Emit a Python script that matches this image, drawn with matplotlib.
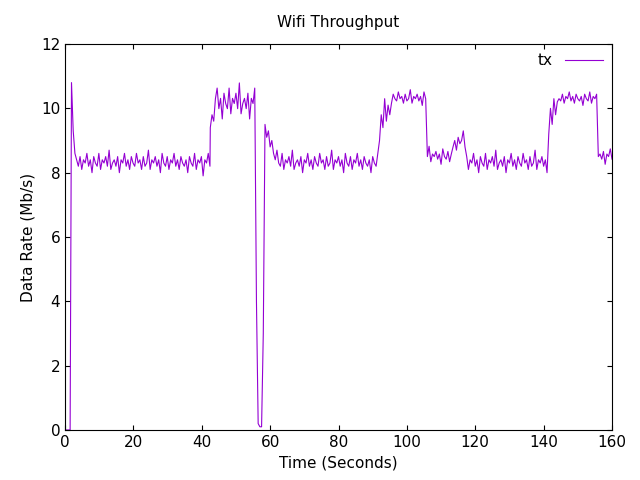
import numpy as np
import matplotlib
matplotlib.use("Agg")
import matplotlib.pyplot as plt

# hand-read jitter around each plateau (Mb/s)
jitter = [-0.1, 0.2, -0.2, 0.1, 0.0, 0.3, -0.1, 0.1, -0.3, 0.2, 0.0, -0.1, 0.3, -0.2, 0.1,
          0.0, 0.2, -0.1, 0.4, -0.2, 0.0, 0.1, -0.1, 0.2, -0.3, 0.1, 0.0, 0.3, -0.1, 0.1,
          -0.2, 0.2, 0.0, -0.1, 0.3, 0.0, 0.1, -0.2, 0.2, -0.1, 0.0, 0.4, -0.2, 0.1, 0.0,
          0.2, -0.1, 0.1, -0.3, 0.3, 0.0, -0.1, 0.2, -0.2, 0.1, 0.0, 0.3, -0.1, 0.1, -0.2,
          0.2, 0.0, -0.1, 0.1, -0.3, 0.2, 0.0, -0.1, 0.3, -0.2, 0.1, 0.0, 0.2, -0.4, 0.1,
          0.0, 0.3, -0.1, 0.2, -0.2]

# (start time, step, values)
segments = [
    (0.0, [0.0, 0.0, 0.0, 0.0]),
    (1.9, [10.8, 9.3, 8.6, 8.4]),
    (3.9, [8.3 + j for j in jitter[:78]]),
    (42.5, [9.4, 9.8, 9.6, 10.3] + [10.15 + 1.6 * j for j in jitter[5:28]]),
    (56.0, [4.0, 0.2, 0.1, 0.1, 3.0]),
    (58.5, [9.5, 9.1, 9.3, 8.8, 9.0, 8.6, 8.4, 8.7]),
    (62.5, [8.3 + j for j in jitter[10:69]]),
    (92.0, [9.0, 9.8, 9.4, 10.3, 9.6, 10.1, 9.8]),
    (95.5, [10.3 + 0.7 * j for j in jitter[30:51]]),
    (106.0, [8.5 + 0.8 * j for j in jitter[40:55]]),
    (113.5, [8.8, 9.0, 8.7, 9.1, 8.9, 9.0, 9.3, 8.8]),
    (117.5, [8.3 + j for j in jitter[1:49]]),
    (141.5, [9.2, 10.0, 9.5, 10.3, 9.8, 10.2]),
    (144.5, [10.3 + 0.7 * j for j in jitter[50:73]]),
    (156.0, [8.5 + 0.8 * j for j in jitter[20:29]]),
]

times, rates = [], []
for start, vals in segments:
    for i, v in enumerate(vals):
        times.append(start + 0.5 * i)
        rates.append(v)

fig = plt.figure(figsize=(6.4, 4.8), dpi=100)
ax = fig.add_axes([65 / 640, 50 / 480, 547 / 640, 386 / 480])
ax.plot(times, rates, color="#9400D3", lw=0.8, label="tx")
ax.set_xlim(0, 160)
ax.set_ylim(0, 12)
ax.set_xticks(range(0, 161, 20))
ax.set_yticks(range(0, 13, 2))
ax.tick_params(direction="in", top=True, right=True, labelsize=11)
ax.set_xlabel("Time (Seconds)", fontsize=11)
ax.set_ylabel("Data Rate (Mb/s)", fontsize=11)
ax.set_title("Wifi Throughput", fontsize=11, pad=12)
ax.legend(loc="upper right", frameon=False, markerfirst=False, fontsize=11,
          handlelength=2.5, borderaxespad=0.2)
fig.savefig("out.png")
